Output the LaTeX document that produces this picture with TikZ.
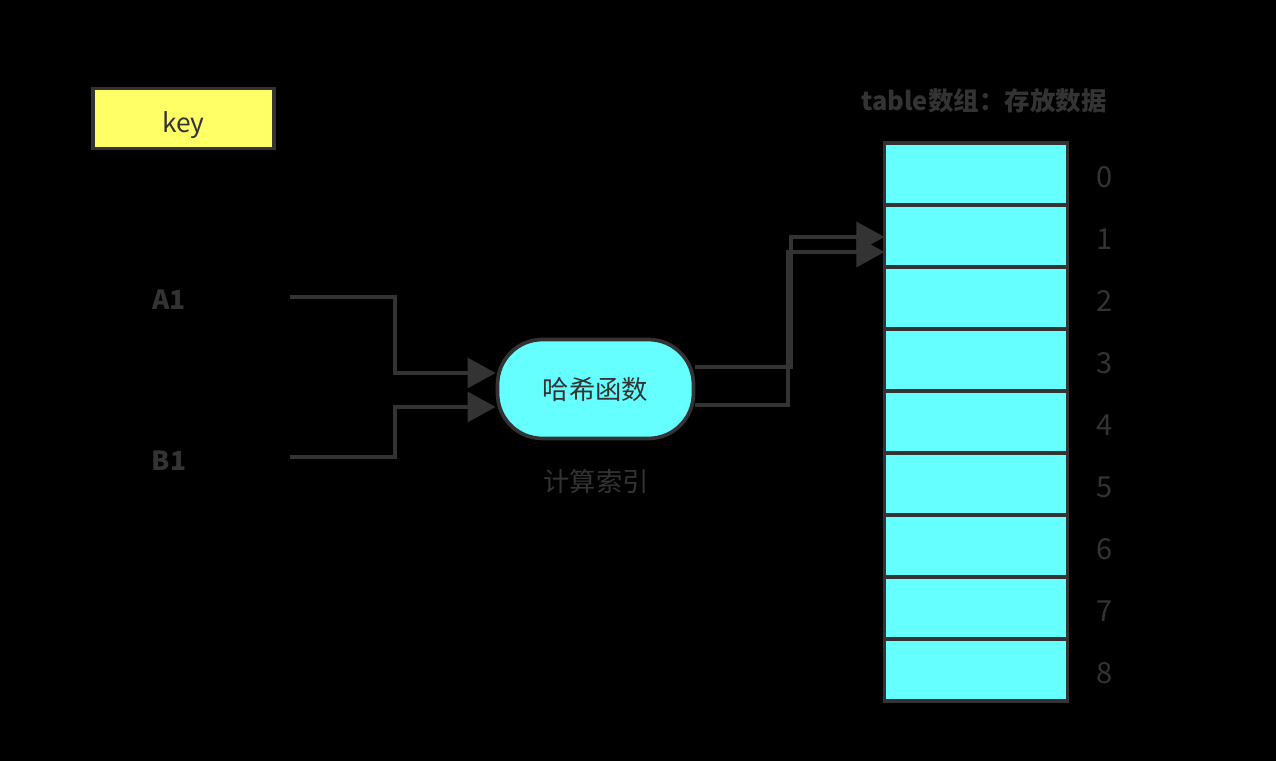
\documentclass[tikz,border=0pt]{standalone}
\usepackage{fontspec}
\setmainfont{Noto Sans CJK SC}
\usetikzlibrary{arrows.meta}
\definecolor{ink}{HTML}{333333}
\definecolor{keyfill}{HTML}{FFFF66}
\definecolor{cellfill}{HTML}{66FFFF}
\begin{document}
\begin{tikzpicture}[x=0.02cm, y=-0.02cm, font=\fontsize{15}{18}\selectfont, line width=2.1pt,
  >={Triangle[length=16pt, width=17pt]},
  keybox/.style={draw=ink, fill=keyfill, text=ink, minimum width=3.62cm, minimum height=1.2cm, inner sep=0pt,
    text height=16pt, text depth=0pt},
  hashbox/.style={draw=ink, fill=cellfill, text=ink, rounded corners=0.9cm, minimum width=3.92cm, minimum height=1.98cm, inner sep=0pt},
  cell/.style={draw=ink, fill=cellfill, minimum width=3.66cm, minimum height=1.24cm, inner sep=0pt, outer sep=0pt},
  lbl/.style={text=ink},
  link/.style={draw=ink, ->}]
  \fill[black] (0,0) rectangle (1276,761);
  \node[keybox] (key) at (183.5,118.5) {key};
  \node[lbl, font=\fontsize{15}{18}\selectfont\bfseries] (a1) at (169,300) {A1};
  \node[lbl, font=\fontsize{15}{18}\selectfont\bfseries] (b1) at (169,461) {B1};
  \coordinate (a1out) at (290,297);
  \coordinate (b1out) at (290,457);
  \node[hashbox] (hash) at (595.5,389) {\raisebox{-1.5pt}{哈希函数}};
  \node[lbl] (calc) at (596,481) {计算索引};
  \node[lbl, font=\fontsize{14.5}{18}\selectfont\bfseries] (title) at (984,101) {table数组：存放数据};
  % table cells with index numbers
  \foreach \i in {0,...,8}{
    \node[cell] (c\i) at (976,174+62*\i) {};
    \node[lbl, font=\fontsize{16.5}{18}\selectfont] (n\i) at (1105,177+62*\i) {\i};
  }
  \draw[link] (a1out) -- ++(105,0) |- ([yshift=0.32cm]hash.west);
  \draw[link] (b1out) -- ++(105,0) |- ([yshift=-0.36cm]hash.west);
  \draw[link] ([yshift=0.44cm]hash.east) -- ++(96,0) |- ([yshift=-0.02cm]c1.west);
  \draw[link] ([yshift=-0.32cm]hash.east) -- ++(93,0) |- ([yshift=-0.32cm]c1.west);
\end{tikzpicture}
\end{document}
